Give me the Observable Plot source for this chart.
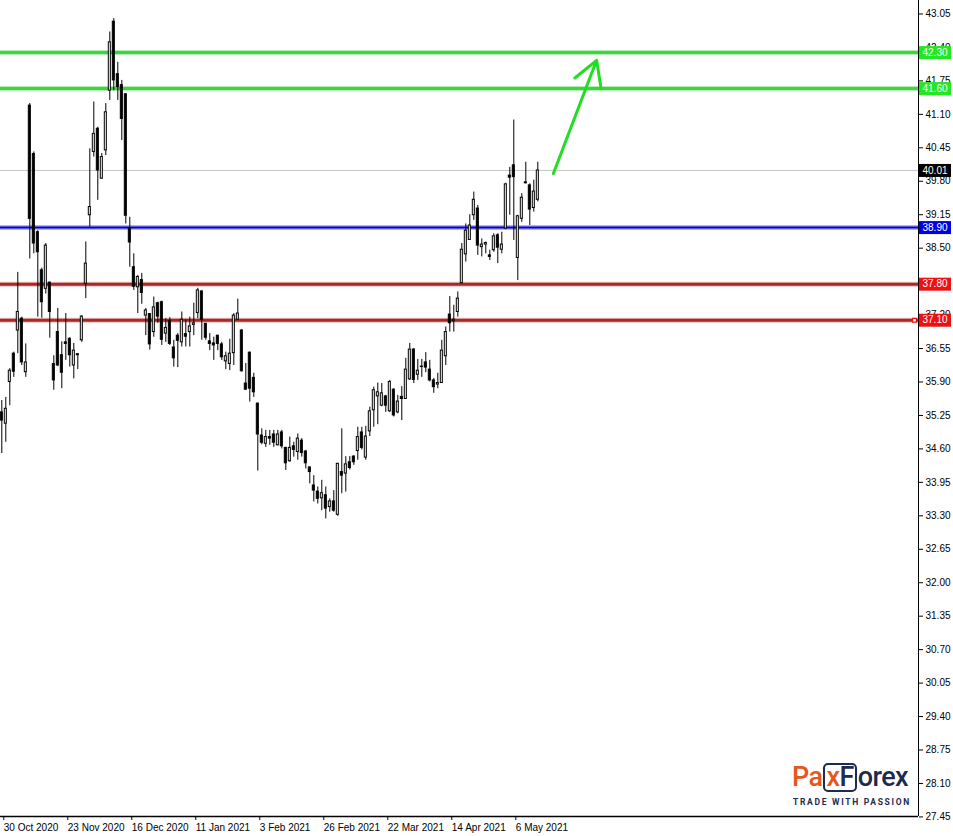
<!DOCTYPE html>
<html>
<head>
<meta charset="utf-8">
<script src="https://cdn.jsdelivr.net/npm/d3@7"></script>
<script src="https://cdn.jsdelivr.net/npm/@observablehq/plot@0.6"></script>
<style>
  html, body { margin: 0; padding: 0; background: #fff; }
  #wrap { position: relative; width: 953px; height: 836px; overflow: hidden; }
  .logo { position: absolute; left: 792px; top: 761px; font-family: Roboto, "Liberation Sans", sans-serif; }
  .logo .main { font-size: 27px; font-weight: 500; letter-spacing: -0.6px; line-height: 32px; white-space: nowrap; }
  .logo .box { display: inline-block; border: 2.5px solid #1e2a4f; border-radius: 5px; line-height: 25px; padding: 0 1px; margin: 0 1px; }
  .logo .tag { font-size: 8.5px; font-weight: 700; letter-spacing: 1.7px; color: #1e2a4f; margin-top: 4px; margin-left: 1px; white-space: nowrap; }
</style>
</head>
<body>
<div id="wrap"></div>
<script>
// Daily OHLC bars (bar index 0 = 30 Oct 2020)
const open = [35.31,35.09,35.90,36.45,36.90,37.13,36.09,41.27,40.33,38.81,
38.07,37.71,37.83,36.25,36.87,36.42,36.67,36.74,36.22,36.44,
36.71,37.81,39.14,40.37,40.82,39.85,40.40,41.56,42.90,41.88,
41.67,41.49,38.89,38.13,37.74,37.88,37.19,37.22,36.87,37.43,
37.45,36.84,37.08,36.57,36.80,36.67,36.83,36.87,37.01,37.24,
37.66,37.03,36.69,36.65,36.80,36.63,36.30,36.25,36.46,37.11,
36.90,35.87,36.47,35.98,35.48,34.86,34.70,34.83,34.88,34.67,
34.92,34.62,34.36,34.65,34.54,34.76,34.55,34.24,33.89,33.77,
33.64,33.70,33.47,33.58,33.32,34.15,34.12,34.34,34.45,34.56,
34.92,34.43,34.94,35.35,35.62,35.44,35.62,35.33,35.75,35.31,
35.61,35.57,35.95,36.53,36.04,36.19,36.28,36.14,35.93,35.85,
35.88,36.40,37.21,37.08,37.26,37.82,38.38,38.66,39.14,39.27,
38.52,38.57,38.36,38.46,38.75,38.47,38.88,39.91,40.11,38.31,
39.07,39.76,39.72,39.28,39.44];
const high = [35.54,35.60,36.16,36.48,38.03,37.16,36.64,41.31,40.37,38.84,
38.11,38.59,37.84,36.41,37.33,36.68,37.23,36.76,36.65,36.45,
37.19,38.62,40.43,41.34,40.85,40.34,41.31,42.70,42.96,42.11,
41.76,41.50,39.10,38.39,37.97,38.01,37.33,37.23,37.55,37.45,
37.47,37.13,37.15,36.71,36.84,37.26,37.11,37.16,37.43,37.72,
37.67,37.04,36.84,36.77,36.80,36.67,36.48,36.73,37.23,37.51,
36.92,36.26,36.48,36.07,35.49,34.99,34.96,34.96,34.96,34.96,
34.96,34.63,34.83,34.73,34.89,34.80,34.57,34.25,34.08,33.86,
33.99,33.86,33.63,33.79,34.32,34.99,34.45,34.45,34.47,35.02,
35.02,35.04,35.41,35.80,35.88,35.87,35.64,35.93,35.77,35.64,
35.81,36.36,36.65,36.55,36.34,36.34,36.47,36.32,35.97,36.07,
36.71,36.97,37.56,37.39,37.65,38.59,38.97,39.15,39.59,39.33,
38.68,38.62,38.46,38.78,38.78,38.81,39.76,40.07,40.99,39.14,
39.56,40.17,39.75,39.82,40.17];
const low = [34.51,34.73,35.44,35.99,36.45,36.22,35.99,38.29,38.39,37.16,
37.14,37.61,36.75,35.74,36.20,35.77,36.32,36.19,35.96,36.14,
36.67,37.52,38.91,40.27,39.43,39.84,40.30,41.37,41.56,41.37,
40.59,38.97,38.13,37.68,37.23,37.41,36.80,36.52,36.77,37.04,
36.61,36.67,36.61,36.19,36.18,36.58,36.58,36.58,36.80,37.13,
36.71,36.71,36.51,36.32,36.51,36.32,36.14,36.12,36.22,37.10,
36.09,35.74,35.51,35.60,34.17,34.68,34.63,34.67,34.63,34.66,
34.60,34.18,34.34,34.44,34.38,34.44,34.21,33.92,33.57,33.53,
33.40,33.24,33.37,33.37,33.29,33.73,33.76,34.19,34.28,34.38,
34.58,34.38,34.84,35.02,35.07,35.42,35.31,35.31,35.22,35.28,
35.15,35.56,35.93,35.87,35.93,35.99,36.08,35.90,35.68,35.77,
35.87,36.22,36.87,36.87,37.16,37.81,38.23,38.65,39.04,38.36,
38.33,38.39,38.26,38.42,38.20,38.39,38.86,39.14,38.65,37.87,
39.00,39.75,38.94,39.20,39.40];
const close = [35.15,35.38,36.12,36.10,37.26,36.28,36.28,39.07,38.59,38.42,
37.45,38.55,37.26,35.93,36.22,36.08,36.64,36.42,36.51,36.42,
37.17,38.20,39.30,40.72,40.01,40.27,41.14,42.50,41.76,41.63,
41.01,39.13,38.61,37.75,37.94,37.63,37.29,36.63,37.35,37.17,
36.72,36.95,36.64,36.36,36.70,37.11,36.78,36.98,37.04,37.68,
37.11,36.76,36.64,36.61,36.64,36.38,36.40,36.45,37.19,37.23,
36.11,35.75,35.77,35.70,34.88,34.72,34.83,34.80,34.72,34.88,
34.65,34.32,34.62,34.58,34.80,34.52,34.32,34.15,33.79,33.63,
33.74,33.44,33.58,33.40,34.31,34.08,34.30,34.23,34.34,34.83,
34.62,34.84,35.33,35.74,35.70,35.68,35.44,35.90,35.25,35.52,
35.57,36.14,36.53,35.94,36.12,36.20,36.18,35.93,35.80,35.88,
36.51,36.87,37.04,37.11,37.52,38.47,38.84,38.94,39.44,38.55,
38.57,38.60,38.33,38.73,38.51,38.57,39.74,39.87,39.88,39.12,
39.48,39.78,39.25,39.60,40.01];

// Horizontal levels
const levelValues = [42.30, 41.60, 38.90, 37.80, 37.10];
const levelColors = ["#3fd43f", "#3fd43f", "#0000cc", "#a52a2a", "#a52a2a"];
const levelHalo   = ["#b6efb6", "#b6efb6", "#b0b0ff", "#efc2c2", "#efc2c2"];
const levelBoxes  = ["#22e822", "#22e822", "#0000e0", "#ee1111", "#ee1111"];
const currentPrice = 40.01;

// Forecast arrow (bar index, price)
const arrowFrom = [137.9, 39.95];
const arrowTo   = [148.7, 42.15];

// Axis ticks (37.85 sits fully under the 37.80 price box, so its label is not shown)
const yTicks = [43.05,42.40,41.75,41.10,40.45,39.80,39.15,38.50,37.85,37.20,36.55,35.90,35.25,34.60,33.95,33.30,32.65,32.00,31.35,30.70,30.05,29.40,28.75,28.10,27.45];
const yHiddenLabels = [37.85];
const xTickIndex = [0,16,32,48,64,80,96,112,128];
const xTickLabels = ["30 Oct 2020","23 Nov 2020","16 Dec 2020","11 Jan 2021","3 Feb 2021","26 Feb 2021","22 Mar 2021","14 Apr 2021","6 May 2021"];

const bars = open.map((o, i) => ({i, open: o, high: high[i], low: low[i], close: close[i], up: close[i] >= o}));
const levels = levelValues.map((v, i) => ({value: v, color: levelColors[i], halo: levelHalo[i], box: levelBoxes[i]}));

const xMin = -0.325, xMax = 229.175;
const yMin = 27.458, yMax = 43.312;

const chart = Plot.plot({
  width: 953,
  height: 836,
  marginLeft: 0,
  marginRight: 35,
  marginTop: 0,
  marginBottom: 20,
  style: {background: "white", fontFamily: "'Liberation Sans', Arial, sans-serif", fontSize: "10px", overflow: "visible"},
  x: {domain: [xMin, xMax], axis: null, label: null},
  y: {domain: [yMin, yMax], axis: null, label: null},
  marks: [
    Plot.ruleY([currentPrice], {stroke: "#c4c4c4", strokeWidth: 1}),
    Plot.ruleY(levels, {y: "value", stroke: "halo", strokeWidth: 5}),
    Plot.ruleY(levels, {y: "value", stroke: "color", strokeWidth: d => d.color === "#0000cc" ? 2 : 3}),
    Plot.ruleX(bars, {x: "i", y1: "low", y2: "high", stroke: "black", strokeWidth: 1}),
    Plot.rect(bars, {x1: d => d.i - 0.25, x2: d => d.i + 0.25, y1: "open", y2: "close", fill: d => d.up ? "white" : "black", stroke: "black", strokeWidth: 1}),
    Plot.arrow([{a: arrowFrom, b: arrowTo}], {x1: d => d.a[0], y1: d => d.a[1], x2: d => d.b[0], y2: d => d.b[1], stroke: "#22dd22", strokeWidth: 3, headLength: 14}),
    Plot.ruleX([xMax], {stroke: "black", strokeWidth: 1}),
    Plot.ruleY([yMin], {stroke: "black", strokeWidth: 1.5}),
    Plot.axisY(yTicks, {anchor: "right", label: null, tickFormat: d => yHiddenLabels.includes(d) ? "" : d.toFixed(2), tickSize: 4, tickPadding: 3, fontSize: 10}),
    Plot.axisX(xTickIndex, {anchor: "bottom", label: null, tickFormat: d => xTickLabels[xTickIndex.indexOf(d)], tickSize: 4, tickPadding: 3, textAnchor: "start", dx: 2, fontSize: 10}),
    Plot.rect(levels, {x1: () => xMax, x2: () => xMax, y1: "value", y2: "value", insetLeft: 1, insetRight: -33, insetTop: -6, insetBottom: -7, fill: "box"}),
    Plot.text(levels, {x: () => xMax, y: "value", text: d => d.value.toFixed(2), dx: 4, textAnchor: "start", fill: "white", fontSize: 10}),
    Plot.rect([currentPrice], {x1: () => xMax, x2: () => xMax, y1: d => d, y2: d => d, insetLeft: 1, insetRight: -33, insetTop: -6, insetBottom: -7, fill: "black"}),
    Plot.text([currentPrice], {x: () => xMax, y: d => d, text: d => d.toFixed(2), dx: 4, textAnchor: "start", fill: "white", fontSize: 10}),
    Plot.dot([levelValues[4]], {x: () => xMax, y: d => d, dx: -4, symbol: "square", r: 2.2, stroke: "#ee1111", fill: "white", strokeWidth: 1.2})
  ]
});

const wrap = document.getElementById("wrap");
wrap.appendChild(chart);

const logo = document.createElement("div");
logo.className = "logo";
logo.innerHTML = '<div class="main"><span style="color:#e8561f">Pa</span><span class="box"><span style="color:#e8561f">x</span><span style="color:#1e2a4f">F</span></span><span style="color:#1e2a4f">orex</span></div><div class="tag">TRADE WITH PASSION</div>';
wrap.appendChild(logo);
</script>
</body>
</html>
